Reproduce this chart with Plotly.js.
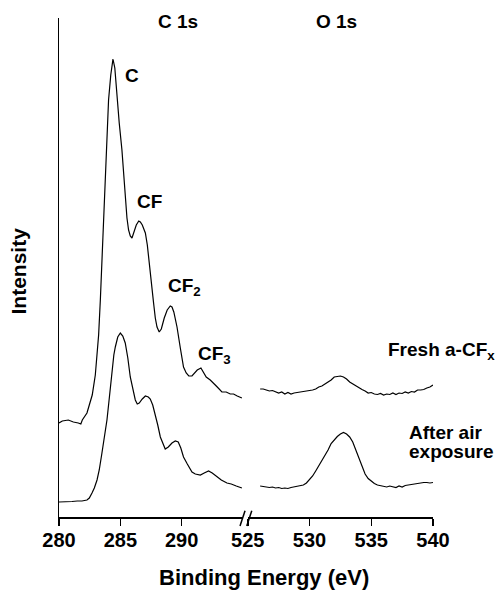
<!DOCTYPE html>
<html>
<head>
<meta charset="utf-8">
<script src="https://cdn.plot.ly/plotly-3.0.1.min.js"></script>
<style>
  html, body { margin: 0; padding: 0; background: #fff; }
  #chart { width: 496px; height: 593px; }
</style>
</head>
<body>
<div id="chart"></div>
<script>
// C 1s region, fresh a-CFx film
const freshC_E = [280.0, 280.27, 280.76, 281.17, 281.57, 281.78, 281.9, 282.1, 282.28, 282.47,
  282.71, 282.96, 283.12, 283.23, 283.37, 283.49, 283.61, 283.77, 283.9, 284.04,
  284.22, 284.4, 284.55, 284.73, 284.91, 285.13, 285.27, 285.4, 285.54, 285.67,
  285.81, 285.95, 286.1, 286.3, 286.5, 286.63, 286.79, 287.04, 287.2, 287.3,
  287.44, 287.56, 287.71, 287.85, 287.99, 288.17, 288.34, 288.58, 288.82, 289.07,
  289.21, 289.36, 289.62, 289.89, 290.15, 290.37, 290.58, 290.84, 291.03, 291.27,
  291.57, 291.76, 292.0, 292.33, 292.6, 292.9, 293.28, 293.63, 293.96, 294.23,
  294.53, 294.91];
const freshC_I = [94, 96, 97, 95, 94, 93, 97, 101, 104, 112,
  122, 142, 162, 182, 217, 252, 289, 350, 384, 417,
  442, 458, 449, 417, 394, 367, 342, 317, 299, 287,
  281, 279, 285, 292, 296, 295, 292, 284, 272, 260,
  240, 227, 214, 199, 190, 185, 188, 199, 207, 211,
  210, 205, 190, 169, 150, 144, 141, 141, 144, 147,
  149, 145, 140, 137, 134, 130, 125, 125, 123, 123,
  121, 119];

// C 1s region, after air exposure
const airC_E = [280.0, 280.51, 281.06, 281.49, 281.87, 282.28, 282.47, 282.69, 282.88, 283.1,
  283.28, 283.5, 283.69, 283.91, 284.1, 284.32, 284.47, 284.59, 284.79, 285.0,
  285.2, 285.4, 285.61, 285.81, 286.01, 286.22, 286.38, 286.54, 286.79, 287.04,
  287.28, 287.44, 287.64, 287.85, 288.05, 288.26, 288.46, 288.66, 288.91, 289.21,
  289.48, 289.72, 289.93, 290.15, 290.46, 290.84, 291.11, 291.52, 291.84, 292.19,
  292.49, 292.88, 293.23, 293.69, 294.04, 294.45, 294.91];
const airC_I = [15, 15, 15.5, 16, 16, 17, 19, 24, 29, 37,
  47, 64, 79, 97, 119, 147, 162, 170, 180, 184,
  181, 174, 159, 140, 127, 117, 113, 114, 118, 121,
  120, 118, 112, 103, 92, 80, 73, 68, 70, 74,
  76, 75, 69, 60, 53, 45, 43, 42, 44, 46,
  44, 40, 37, 34, 33, 31, 29];

// O 1s region energies
const O_E = [526.0, 526.25, 526.5, 526.75, 527.0, 527.25, 527.5, 527.75, 528.0, 528.25,
  528.5, 528.75, 529.0, 529.25, 529.5, 529.75, 530.0, 530.25, 530.5, 530.75,
  531.0, 531.25, 531.5, 531.75, 532.0, 532.25, 532.5, 532.75, 533.0, 533.25,
  533.5, 533.75, 534.0, 534.25, 534.5, 534.75, 535.0, 535.25, 535.5, 535.75,
  536.0, 536.25, 536.5, 536.75, 537.0, 537.25, 537.5, 537.75, 538.0, 538.25,
  538.5, 538.75, 539.0, 539.25, 539.5, 539.75, 540.0];
const freshO_I = [128, 128, 127, 126, 126.5, 125, 124, 125, 123, 124.5,
  123, 124, 124.5, 125, 125.5, 126, 126, 127, 128, 130,
  131, 133, 135, 137, 140, 140.5, 141, 140, 138, 135,
  133, 131, 129, 127.5, 126, 124, 124.5, 123, 122.5, 123.5,
  122, 123, 122.5, 124, 122.5, 124, 123.5, 125, 124, 125.5,
  125, 127, 127, 127.5, 129, 130, 132];
const airO_I = [31, 30.5, 30, 29.5, 30, 29, 29.5, 28.5, 29, 28.5,
  29.5, 30, 30.5, 31, 32, 34, 37, 41, 46, 51,
  56, 62, 67, 73.5, 77.5, 80.5, 83, 84.5, 83, 80,
  75, 67, 57, 49, 43, 38.5, 35.5, 33.5, 32, 31.5,
  31, 30, 31, 30.5, 29.5, 31, 30, 31.5, 32, 32.5,
  33, 34, 34, 34.5, 34.5, 34, 34.5];

const leftTicks = [280, 285, 290];
const rightTicks = [525, 530, 535, 540];

const FONT = 'Liberation Sans, Arial, Helvetica, sans-serif';
const line = { color: '#000', width: 1.2 };

const traces = [
  { x: freshC_E, y: freshC_I, xaxis: 'x', yaxis: 'y', mode: 'lines', line: line, name: 'Fresh C 1s' },
  { x: O_E, y: freshO_I, xaxis: 'x2', yaxis: 'y', mode: 'lines', line: line, name: 'Fresh O 1s' },
  { x: airC_E, y: airC_I, xaxis: 'x', yaxis: 'y', mode: 'lines', line: line, name: 'Air C 1s' },
  { x: O_E, y: airO_I, xaxis: 'x2', yaxis: 'y', mode: 'lines', line: line, name: 'Air O 1s' }
];

const xCommon = {
  showline: true, linecolor: '#000', linewidth: 1.5,
  ticks: 'outside', ticklen: 7, tickwidth: 1.5, tickcolor: '#000',
  ticklabelstandoff: -3,
  showgrid: false, zeroline: false,
  tickfont: { family: FONT, size: 20, color: '#000', weight: 'bold' },
  anchor: 'y'
};

function label(text, x, xref, y, size, opts) {
  return Object.assign({
    text: '<b>' + text + '</b>', x: x, xref: xref, y: y, yref: 'y',
    showarrow: false, xanchor: 'left', yanchor: 'middle',
    font: { family: FONT, size: size || 19, color: '#000' }
  }, opts || {});
}

const layout = {
  width: 496, height: 593,
  margin: { l: 59, r: 63, t: 18, b: 76 },
  paper_bgcolor: '#fff', plot_bgcolor: '#fff',
  showlegend: false,
  xaxis: Object.assign({}, xCommon, {
    domain: [0, 0.492], range: [280, 295],
    tickvals: leftTicks, ticktext: leftTicks.map(String)
  }),
  xaxis2: Object.assign({}, xCommon, {
    domain: [0.5048, 1], range: [525, 540],
    tickvals: rightTicks, ticktext: rightTicks.map(String)
  }),
  yaxis: {
    range: [0, 499], showline: true, linecolor: '#000', linewidth: 1.5,
    showticklabels: false, ticks: '', showgrid: false, zeroline: false
  },
  shapes: [
    // axis break marks
    { type: 'line', xref: 'paper', yref: 'paper', x0: 0.4840, y0: -0.018, x1: 0.4974, y1: 0.0126,
      line: { color: '#000', width: 1.5 } },
    { type: 'line', xref: 'paper', yref: 'paper', x0: 0.5020, y0: -0.018, x1: 0.5154, y1: 0.0126,
      line: { color: '#000', width: 1.5 } }
  ],
  annotations: [
    label('C 1s', 289.67, 'x', 496, 19, { xanchor: 'center' }),
    label('O 1s', 532.2, 'x2', 496, 19, { xanchor: 'center' }),
    label('C', 285.22, 'x', 442),
    label('CF', 286.2, 'x', 315.5),
    label('CF<sub>2</sub>', 288.75, 'x', 230),
    label('CF<sub>3</sub>', 291.15, 'x', 162),
    label('Fresh a-CF<sub>x</sub>', 536.2, 'x2', 166.5),
    label('After air', 537.9, 'x2', 85),
    label('exposure', 537.9, 'x2', 66),
    {
      text: '<b>Intensity</b>', xref: 'paper', yref: 'paper', x: -0.107, y: 0.494,
      textangle: -90, showarrow: false, xanchor: 'center', yanchor: 'middle',
      font: { family: FONT, size: 21, color: '#000' }
    },
    {
      text: '<b>Binding Energy (eV)</b>', xref: 'paper', yref: 'paper', x: 0.548, y: -0.122,
      showarrow: false, xanchor: 'center', yanchor: 'middle',
      font: { family: FONT, size: 22, color: '#000' }
    }
  ]
};

Plotly.newPlot('chart', traces, layout, { staticPlot: true, displayModeBar: false });
</script>
</body>
</html>
